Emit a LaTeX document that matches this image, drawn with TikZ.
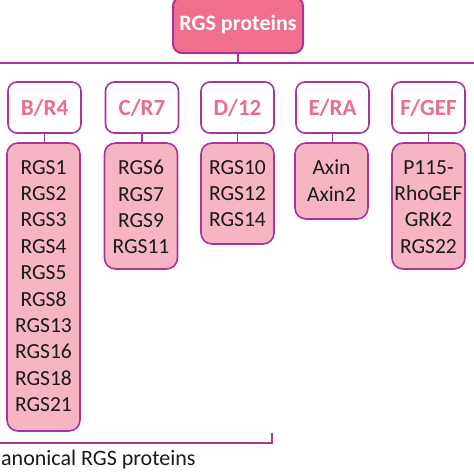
\documentclass[tikz,border=0pt]{standalone}
\usepackage{fontspec}
\setmainfont{Carlito}
\definecolor{edge}{HTML}{A8359A}
\definecolor{topfill}{HTML}{F06E8E}
\definecolor{listfill}{HTML}{F7B5C3}
\definecolor{grouptext}{HTML}{EC6C8C}
\definecolor{txt}{HTML}{1A1A1A}
\begin{document}
\begin{tikzpicture}[x=1pt,y=-1pt,
  topbox/.style={draw=edge, line width=2pt, fill=topfill, rounded corners=9pt, minimum width=130pt, minimum height=56pt, text=white, font=\fontsize{22}{26}\selectfont\bfseries, inner sep=0pt},
  groupbox/.style={draw=edge, line width=1.6pt, fill=white, rounded corners=9pt, minimum width=73pt, minimum height=51pt, text=grouptext, font=\fontsize{23}{27}\selectfont\bfseries, inner sep=0pt},
  listbox/.style={draw=edge, line width=1.6pt, fill=listfill, rounded corners=11pt, minimum width=73pt, inner sep=0pt},
  listtext/.style={align=center, font=\fontsize{21.5}{26.4}\selectfont, inner sep=0pt, anchor=north, text=txt},
  link/.style={draw=edge, line width=1.6pt},
  caption/.style={font=\fontsize{22}{26}\selectfont, inner sep=0pt, anchor=west, text=txt}]
\useasboundingbox (0,0) rectangle (474,474);

\node[topbox] (top) at (238,25) {RGS proteins};
\coordinate (hl) at (0,63);
\coordinate (hr) at (474,63);
\draw[link] (hl) -- (hr);
\draw[link] (top.south) -- (top.south |- hl);

\node[groupbox] (gb) at (44.5,107.5) {B/R4};
\node[groupbox] (gc) at (142,107.5) {C/R7};
\node[groupbox] (gd) at (237.5,107.5) {D/12};
\node[groupbox] (ge) at (332.5,107.5) {E/RA};
\node[groupbox] (gf) at (428.5,107.5) {F/GEF};

\node[listbox, minimum height=288pt] (lb) at (43.5,287) {};
\node[listbox, minimum height=126pt] (lc) at (141,206) {};
\node[listbox, minimum height=101pt] (ld) at (237.5,193.5) {};
\node[listbox, minimum height=76pt] (le) at (331.5,181) {};
\node[listbox, minimum height=126pt] (lf) at (428.5,206) {};

\draw[link] (gb.south) -- (gb.south |- lb.north);
\draw[link] (gc.south) -- (gc.south |- lc.north);
\draw[link] (gd.south) -- (gd.south |- ld.north);
\draw[link] (ge.south) -- (ge.south |- le.north);
\draw[link] (gf.south) -- (gf.south |- lf.north);

\node[listtext] (tb) at (43.5,160) {RGS1\\RGS2\\RGS3\\RGS4\\RGS5\\RGS8\\RGS13\\RGS16\\RGS18\\RGS21};
\node[listtext] (tc) at (141,160) {RGS6\\RGS7\\RGS9\\RGS11};
\node[listtext] (td) at (237.5,160) {RGS10\\RGS12\\RGS14};
\node[listtext] (te) at (331.5,160) {Axin\\Axin2};
\node[listtext] (tf) at (428.5,160) {P115-\\RhoGEF\\GRK2\\RGS22};

\coordinate (bl) at (0,443);
\coordinate (br) at (272,443);
\coordinate (bt) at (272,433);
\draw[link] (bl) -- (br) -- (bt);
\node[caption] (cap) at (1,460) {anonical RGS proteins};
\end{tikzpicture}
\end{document}
